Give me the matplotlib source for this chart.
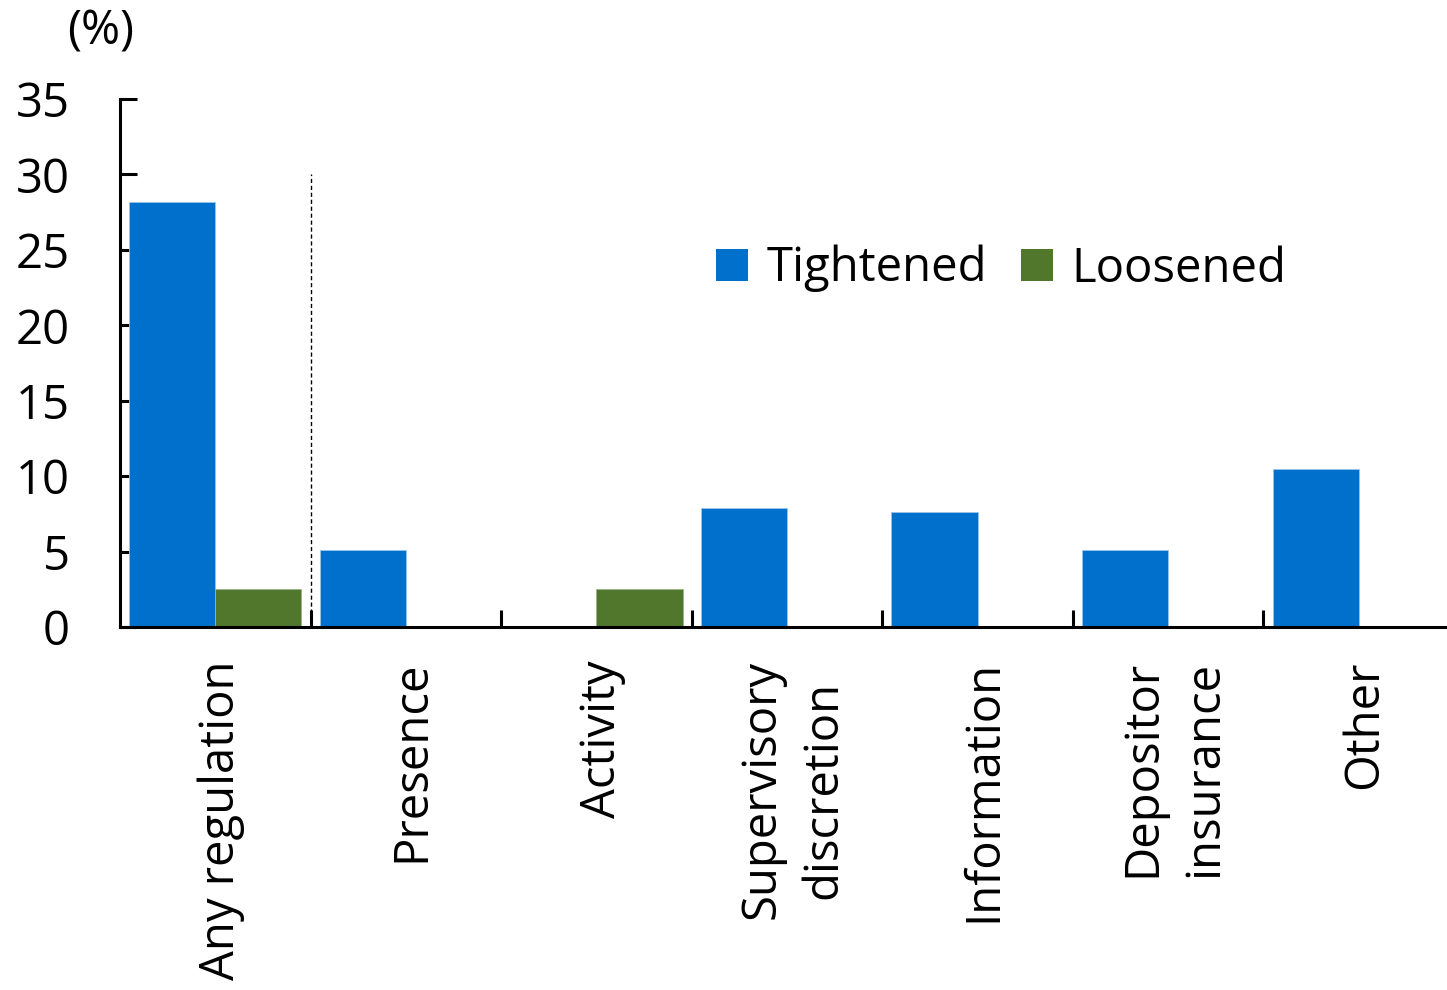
import matplotlib
matplotlib.use("Agg")
import matplotlib.pyplot as plt
from matplotlib.patches import Patch
import numpy as np

categories = ["Any regulation", "Presence", "Activity", "Supervisory\ndiscretion",
              "Information", "Depositor\ninsurance", "Other"]
tightened = [28.2, 5.1, 0.0, 7.9, 7.6, 5.1, 10.5]
loosened = [2.55, 0.0, 2.55, 0.0, 0.0, 0.0, 0.0]
y_ticks = [0, 5, 10, 15, 20, 25, 30, 35]

BLUE = "#0070CD"
GREEN = "#50772C"

plt.rcParams["font.family"] = ["Open Sans", "DejaVu Sans"]
FS = 34

W, H = 1447, 990
fig = plt.figure(figsize=(W / 100, H / 100), dpi=100)
ax = fig.add_axes([120 / W, (H - 627) / H, (1454 - 120) / W, (627 - 99) / H])

x = np.arange(len(categories))
w = 0.452
ax.bar(x - w, tightened, width=w, align="edge", color=BLUE,
       edgecolor="#9CC4EA", linewidth=0.6, zorder=2)
ax.bar(x, loosened, width=w, align="edge", color=GREEN,
       edgecolor="#9DB58A", linewidth=0.6, zorder=2)

# separator between the aggregate and the individual categories
ax.plot([0.5, 0.5], [0, 30], ls=(0, (3, 2)), lw=1.0, color="black", zorder=3)

ax.set_xlim(-0.5, len(categories) - 0.5)
ax.set_ylim(0, 35)
ax.set_yticks(y_ticks)
ax.set_xticks(x + 0.03)
ax.set_xticklabels(categories, rotation=90, fontsize=FS, ha="center", va="top",
                   multialignment="center", linespacing=1.4)
ax.set_xticks(x[:-1] + 0.5, minor=True)

for s in ("top", "right"):
    ax.spines[s].set_visible(False)
for s in ("left", "bottom"):
    ax.spines[s].set_linewidth(2.2)

ax.tick_params(axis="y", direction="in", length=12, width=2.2, labelsize=FS, pad=36)
ax.tick_params(axis="x", which="major", length=0, pad=24)
ax.tick_params(axis="x", which="minor", direction="in", length=12, width=2.2)

fig.text(101 / W, 1 - 32 / H, "(%)", fontsize=FS, ha="center", va="center")

handles = [Patch(facecolor=BLUE, label="Tightened"), Patch(facecolor=GREEN, label="Loosened")]
ax.legend(handles=handles, loc="upper left", bbox_to_anchor=(716 / W, 1 - 245 / H),
          bbox_transform=fig.transFigure, ncol=2, frameon=False, fontsize=FS,
          handlelength=0.68, handleheight=0.68, handletextpad=0.4, columnspacing=0.7,
          borderaxespad=0, borderpad=0)

fig.savefig("out.png", dpi=100)
